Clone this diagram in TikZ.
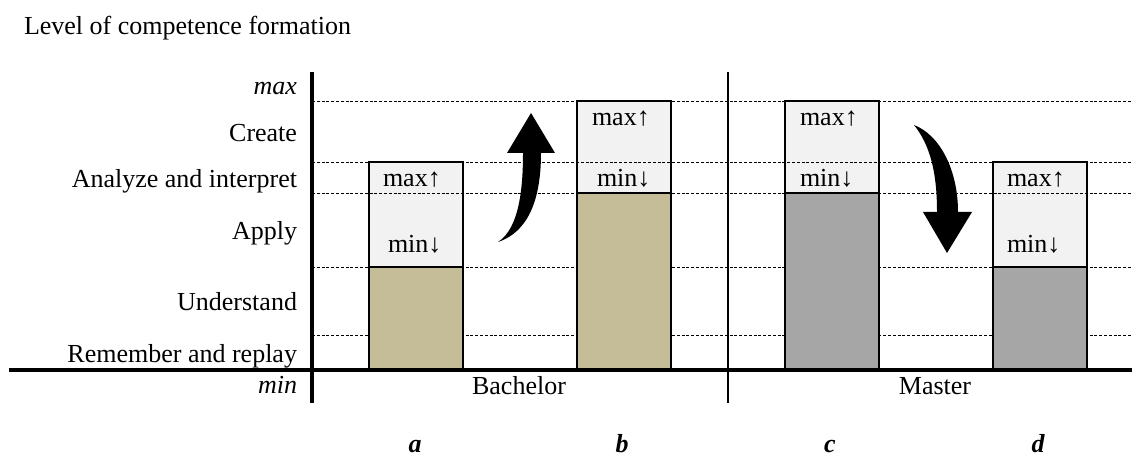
\documentclass[tikz,border=0pt]{standalone}
\usepackage{fontspec}
\setmainfont{Liberation Serif}
\definecolor{lightbar}{HTML}{F2F2F2}
\definecolor{khaki}{HTML}{C4BD97}
\definecolor{greybar}{HTML}{A6A6A6}
\tikzset{
  lbl/.style={font=\fontsize{26}{30}\selectfont, inner sep=0pt, outer sep=0pt},
  grid/.style={dash pattern=on 3pt off 1.8pt, line width=0.9pt},
  barframe/.style={draw=black, line width=1.8pt},
  bigarrow/.style={fill=black, draw=none}
}
\begin{document}
\begin{tikzpicture}[x=1pt,y=-1pt]
\useasboundingbox (0,0) rectangle (1132,457);
% light upper parts of bars
\fill[lightbar] (369,162) rectangle (463,370);
\fill[lightbar] (577,101) rectangle (671,370);
\fill[lightbar] (785,101) rectangle (879,370);
\fill[lightbar] (993,162) rectangle (1087,370);
% dashed level lines
\foreach \yy in {101,162,193,267,335} \draw[grid] (312,\yy) -- (1132,\yy);
% lower filled parts
\fill[khaki] (369,267) rectangle (463,370);
\fill[khaki] (577,193) rectangle (671,370);
\fill[greybar] (785,193) rectangle (879,370);
\fill[greybar] (993,267) rectangle (1087,370);
% frames
\draw[barframe] (369,370) -- (369,162) -- (463,162) -- (463,370);
\draw[barframe] (369,267) -- (463,267);
\draw[barframe] (577,370) -- (577,101) -- (671,101) -- (671,370);
\draw[barframe] (577,193) -- (671,193);
\draw[barframe] (785,370) -- (785,101) -- (879,101) -- (879,370);
\draw[barframe] (785,193) -- (879,193);
\draw[barframe] (993,370) -- (993,162) -- (1087,162) -- (1087,370);
\draw[barframe] (993,267) -- (1087,267);
% axes
\draw[line width=3.2pt] (312,72) -- (312,403);
\draw[line width=3.2pt] (9,370) -- (1132,370);
\draw[line width=1.6pt] (728,72) -- (728,403);
% curved arrows
\fill[bigarrow] (498,242) .. controls (520,228) and (523,185) .. (523,153) -- (507,153) -- (531,113) -- (555,153) -- (541,153) .. controls (541,200) and (528,232) .. (498,242) -- cycle;
\fill[bigarrow] (914,125) .. controls (940,135) and (958,170) .. (958,212) -- (972,212) -- (947,253) -- (923,212) -- (937,212) .. controls (937,172) and (930,145) .. (914,125) -- cycle;
% title
\node[lbl, anchor=base west] (title) at (24,35) {Level of competence formation};
% axis labels
\node[lbl, anchor=base east] (lmax) at (297,95) {\itshape max};
\node[lbl, anchor=base east] (lcreate) at (297,142) {Create};
\node[lbl, anchor=base east] (lanalyze) at (297,188) {Analyze and interpret};
\node[lbl, anchor=base east] (lapply) at (297,240) {Apply};
\node[lbl, anchor=base east] (lunder) at (297,310) {Understand};
\node[lbl, anchor=base east] (lremember) at (297,362) {Remember and replay};
\node[lbl, anchor=base east] (lmin) at (297,393) {\itshape min};
% bar texts
\node[lbl, anchor=base west] (amax) at (383,187) {max↑};
\node[lbl, anchor=base west] (amin) at (388,252) {min↓};
\node[lbl, anchor=base west] (bmax) at (592,126) {max↑};
\node[lbl, anchor=base west] (bmin) at (597,187) {min↓};
\node[lbl, anchor=base west] (cmax) at (800,126) {max↑};
\node[lbl, anchor=base west] (cmin) at (800,187) {min↓};
\node[lbl, anchor=base west] (dmax) at (1007,187) {max↑};
\node[lbl, anchor=base west] (dmin) at (1007,252) {min↓};
% bottom labels
\node[lbl, anchor=base] (bach) at (519,394) {Bachelor};
\node[lbl, anchor=base] (mast) at (935,394) {Master};
\node[lbl, anchor=base] (la) at (415,452) {\bfseries\itshape a};
\node[lbl, anchor=base] (lb) at (622,452) {\bfseries\itshape b};
\node[lbl, anchor=base] (lc) at (830,452) {\bfseries\itshape c};
\node[lbl, anchor=base] (ld) at (1038,452) {\bfseries\itshape d};
\end{tikzpicture}
\end{document}
